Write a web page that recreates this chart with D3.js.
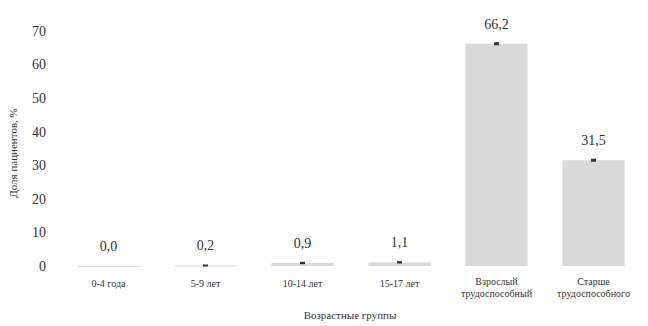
<!DOCTYPE html>
<html><head><meta charset="utf-8">
<script src="https://cdn.jsdelivr.net/npm/d3@7"></script>
<style>body{margin:0;background:#fff;}</style></head>
<body><svg id="c" width="648" height="326"></svg>
<script>
const categories = [["0-4 года"],["5-9 лет"],["10-14 лет"],["15-17 лет"],["Взрослый","трудоспособный"],["Старше","трудоспособного"]];
const values = [0.0, 0.2, 0.9, 1.1, 66.2, 31.5];
const errors = [0.0, 0.1, 0.2, 0.2, 0.3, 0.3];
const valueLabels = ["0,0","0,2","0,9","1,1","66,2","31,5"];
const yTicks = [0,10,20,30,40,50,60,70];
const yTitle = "Доля пациентов, %";
const xTitle = "Возрастные группы";

const FONT = '"Liberation Serif"';
const svg = d3.select("#c");
const m = {l:60, r:6, t:31, b:60};
const W = 648, H = 326;
const x = d3.scaleBand().domain(d3.range(categories.length)).range([m.l, W - m.r]).paddingInner(0.36).paddingOuter(0.18);
const y = d3.scaleLinear().domain([0,70]).range([266, 31]);
const ink = "#333";

// y tick labels
svg.append("g").selectAll("text").data(yTicks).join("text")
  .attr("x", 46).attr("y", d => y(d)).attr("dy","0.35em").attr("fill", ink)
  .attr("text-anchor","end").attr("font-size",14).style("font-family", FONT).text(d => d);

// bars
svg.append("g").selectAll("rect").data(values).join("rect")
  .attr("x", (d,i) => x(i)).attr("width", x.bandwidth())
  .attr("y", d => y(d)).attr("height", d => Math.max(1, y(0) - y(d)))
  .attr("fill", "#d9d9d9");

// error bars
const eb = svg.append("g");
values.forEach((v,i) => {
  if (v <= 0) return;
  const cx = x(i) + x.bandwidth()/2;
  eb.append("rect").attr("x", cx - 2.5).attr("width", 5)
    .attr("y", y(v + errors[i]) - 0.5).attr("height", Math.max(2, y(Math.max(0, v - errors[i])) - y(v + errors[i]) + 1))
    .attr("fill", "#333");
});

// value labels
svg.append("g").selectAll("text").data(values).join("text")
  .attr("x", (d,i) => x(i) + x.bandwidth()/2).attr("y", d => y(d) - 15).attr("fill", ink)
  .attr("text-anchor","middle").attr("font-size",14).style("font-family", FONT).text((d,i) => valueLabels[i]);

// category labels
const cg = svg.append("g");
categories.forEach((lines,i) => {
  const t = cg.append("text").attr("x", x(i) + x.bandwidth()/2).attr("fill", ink)
    .attr("y", lines.length > 1 ? 285 : 287).attr("text-anchor","middle").attr("font-size",10).style("font-family", FONT);
  lines.forEach((ln,j) => t.append("tspan").attr("x", x(i) + x.bandwidth()/2).attr("dy", j ? 12 : 0).text(ln));
});

// axis titles
svg.append("text").attr("x", 350).attr("y", 319).attr("fill", ink).attr("text-anchor","middle").attr("font-size",11).style("font-family", FONT).text(xTitle);
svg.append("text").attr("transform","translate(17,153) rotate(-90)").attr("fill", ink).attr("text-anchor","middle").attr("font-size",11).style("font-family", FONT).text(yTitle);
</script></body></html>
